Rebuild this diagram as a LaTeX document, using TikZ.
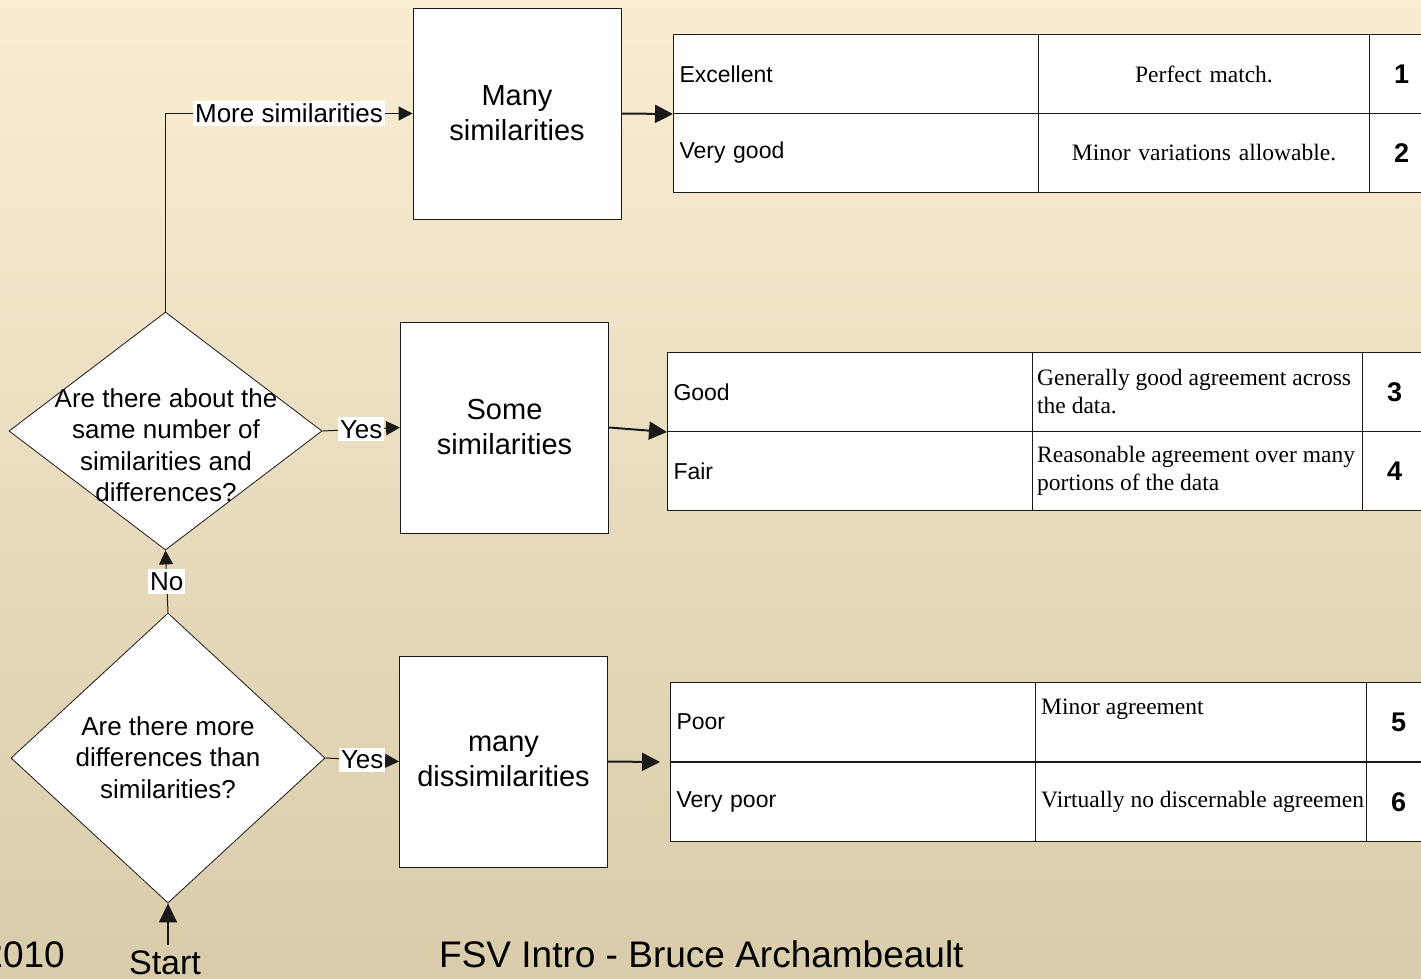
\documentclass[tikz,border=0pt]{standalone}
\usepackage{fontspec}
\setmainfont{Liberation Serif}
\setsansfont{Liberation Sans}
\usetikzlibrary{shapes.geometric,arrows.meta}
\definecolor{bgtop}{RGB}{250,237,211}
\definecolor{bgbot}{RGB}{216,204,170}
\definecolor{ink}{RGB}{25,25,25}
\begin{document}
\begin{tikzpicture}[x=1pt,y=-1pt,
  box/.style={draw=ink, line width=0.9pt, fill=white, minimum width=208pt, minimum height=211pt, inner sep=0pt, align=center, font=\sffamily\fontsize{29}{35}\selectfont},
  decision/.style={draw=ink, line width=0.8pt, fill=white, diamond, inner sep=0pt},
  qtext/.style={align=center, inner sep=0pt, font=\sffamily\fontsize{26}{31.5}\selectfont},
  lab/.style={fill=white, inner xsep=2pt, inner ysep=3pt, font=\sffamily\fontsize{26}{30}\selectfont},
  conn/.style={draw=ink, line width=1pt, -{Triangle[length=14pt,width=14pt]}},
  feed/.style={draw=ink, line width=2pt, -{Triangle[length=18pt,width=18pt]}},
  cell/.style={draw=ink, line width=1pt, fill=white, anchor=north west, minimum height=79pt, inner xsep=6pt, inner ysep=0pt},
  rname/.style={cell, align=left, font=\sffamily\fontsize{23}{27}\selectfont},
  rdesc/.style={cell, font=\rmfamily\fontsize{23.5}{27}\selectfont},
  rnum/.style={cell, minimum width=64pt, inner xsep=0pt, font=\sffamily\bfseries\fontsize{27}{30}\selectfont},
  dtext/.style={inner sep=0pt, align=left, font=\rmfamily\fontsize{23.5}{27.5}\selectfont},
  foot/.style={inner sep=0pt, font=\sffamily\fontsize{37}{40}\selectfont}
]
\useasboundingbox (0,0) rectangle (1421,978);
\clip (0,0) rectangle (1421,978);
\shade[top color=bgtop, bottom color=bgbot] (-2,-2) rectangle (1423,980);

% process boxes
\node[box] (b1) at (517,113.5) {Many\\similarities};
\node[box] (b2) at (504.5,427.5) {Some\\similarities};
\node[box] (b3) at (503.5,761.5) {many\\dissimilarities};

% decisions
\node[decision, minimum width=313pt, minimum height=238pt] (d1) at (165.5,431) {};
\node[qtext] (q1) at (166,445) {Are there about the\\same number of\\similarities and\\differences?};
\node[decision, minimum width=314pt, minimum height=290pt] (d2) at (168,758) {};
\node[qtext] (q2) at (168,757.5) {Are there more\\differences than\\similarities?};

% table 1
\node[rname, minimum width=365pt, text width=353pt] (t1a1) at (673,34) {Excellent};
\node[rdesc, minimum width=331pt, text width=319pt, align=center] (t1a2) at (1038,34) {Perfect match.};
\node[rnum] (t1a3) at (1369,34) {1};
\node[rname, minimum width=365pt, text width=353pt] (t1b1) at (673,113) {Very good};
\node[rdesc, minimum width=331pt, text width=319pt, align=center] (t1b2) at (1038,113) {Minor variations allowable.};
\node[rnum] (t1b3) at (1369,113) {2};

% table 2
\node[rname, minimum width=364.5pt, text width=352.5pt] (t2a1) at (667,352) {Good};
\node[cell, minimum width=330.5pt] (t2a2) at (1031.5,352) {};
\node[dtext, anchor=west] (t2a2t) at (1037,391.5) {Generally good agreement across\\the data.};
\node[rnum] (t2a3) at (1362,352) {3};
\node[rname, minimum width=364.5pt, text width=352.5pt] (t2b1) at (667,431) {Fair};
\node[cell, minimum width=330.5pt] (t2b2) at (1031.5,431) {};
\node[dtext, anchor=west] (t2b2t) at (1037,471) {Reasonable agreement over many\\portions of the data};
\node[rnum] (t2b3) at (1362,431) {4};

% table 3
\node[rname, minimum width=365pt, text width=353pt] (t3a1) at (670,682) {Poor};
\node[cell, minimum width=331pt] (t3a2) at (1035,682) {};
\node[dtext, anchor=west] (t3a2t) at (1041,709) {Minor agreement};
\node[rnum] (t3a3) at (1366,682) {5};
\node[rname, minimum width=365pt, text width=353pt] (t3b1) at (670,762) {Very poor};
\node[cell, minimum width=331pt] (t3b2) at (1035,762) {};
\node[dtext, anchor=west] (t3b2t) at (1041,801.5) {Virtually no discernable agreemen};
\node[rnum] (t3b3) at (1366,762) {6};
\coordinate (t3in) at (660,762);

% connectors
\draw[conn] (d1.north) |- node[lab, pos=0.75] (l1) {More similarities} (b1.west);
\draw[conn] (d1.east) -- node[lab] (l2) {Yes} (b2.west);
\draw[conn] (d2.north) -- node[lab] (l3) {No} (d1.south);
\draw[conn] (d2.east) -- node[lab] (l4) {Yes} (b3.west);
\draw[feed] (b1.east) -- (t1a1.south west);
\draw[feed] (b2.east) -- (t2a1.south west);
\draw[feed] (b3.east) -- (t3in);

% start
\node[inner sep=0pt, anchor=base, font=\sffamily\fontsize{34}{38}\selectfont] (start) at (165,974) {Start};
\draw[draw=ink, line width=1.5pt, -{Triangle[length=19pt,width=18pt]}, shorten <=5pt] (start.north -| d2.south) -- (d2.south);

% footer
\node[foot, anchor=base east] (f1) at (65,967) {2010};
\node[foot, anchor=base west] (f2) at (439,967) {FSV Intro - Bruce Archambeault};
\end{tikzpicture}
\end{document}
